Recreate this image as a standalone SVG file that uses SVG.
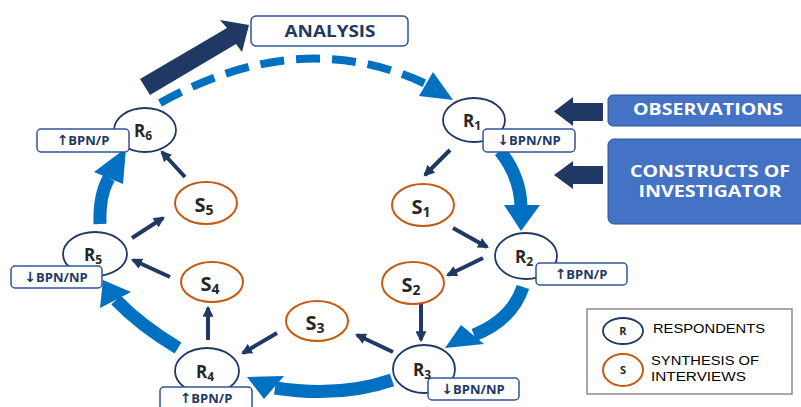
<svg xmlns="http://www.w3.org/2000/svg" width="801" height="407" viewBox="0 0 801 407">
<defs>
<style>
.r{fill:#fff;stroke:#1F3864;stroke-width:1.8}
.s{fill:#fff;stroke:#C55A11;stroke-width:2}
.rt{font-family:"Open Sans","Liberation Sans",sans-serif;font-weight:bold;font-size:17px;fill:#262626;text-anchor:middle}
.st{font-family:"Open Sans","Liberation Sans",sans-serif;font-weight:bold;font-size:20px;fill:#262626;text-anchor:middle}
.lb{fill:#fff;stroke:#2F5597;stroke-width:1.5}
.lt{font-family:"Open Sans","Liberation Sans",sans-serif;font-weight:bold;font-size:13px;fill:#1F3864;text-anchor:middle}
.ar{font-family:"DejaVu Sans",sans-serif;font-weight:bold;font-size:14px}
.big{fill:none;stroke:#0070C0;stroke-width:13}
.bh{fill:#0070C0}
.sm{stroke:#1F3864;stroke-width:4;fill:none;marker-end:url(#ah)}
.nv{fill:#1F3864}
.bx{fill:#4472C4;stroke:#2F5597;stroke-width:1}
.bt{font-family:"Open Sans","Liberation Sans",sans-serif;font-weight:bold;font-size:16px;fill:#fff;text-anchor:middle}
.lg{font-family:"Liberation Sans",Arial,sans-serif;font-size:13px;fill:#000}
</style>
<marker id="ah" viewBox="0 0 10 10" refX="8" refY="5" markerWidth="11" markerHeight="11" markerUnits="userSpaceOnUse" orient="auto">
<path d="M0,0 L10,5 L0,10 z" fill="#1F3864"/>
</marker>
</defs>

<g id="connectors">
<path d="M160,103 Q300,25 426,84" fill="none" stroke="#0070C0" stroke-width="8" stroke-dasharray="24 12"/>
<polygon class="bh" points="453,100 433,72 419,96"/>
<path class="big" d="M500,151 Q520,176 521,206"/>
<polygon class="bh" points="504,205 540,205 521,231"/>
<path class="big" d="M523,287 Q512,320 474,335"/>
<polygon class="bh" points="461,325 484,344 445,348"/>
<path class="big" d="M392,380 Q340,398 275,388"/>
<polygon class="bh" points="284,376 264,399 247,377"/>
<path class="big" d="M178,348 Q140,325 116,300"/>
<polygon class="bh" points="131,292 100,308 103,280"/>
<path class="big" d="M100,224 Q99,195 109,178"/>
<polygon class="bh" points="94,172 123,184 126,148"/>
<line class="sm" x1="450" y1="150" x2="425" y2="175"/>
<line class="sm" x1="453" y1="228" x2="487" y2="247"/>
<line class="sm" x1="483" y1="258" x2="448" y2="275"/>
<line class="sm" x1="421" y1="300" x2="421" y2="340"/>
<line class="sm" x1="393" y1="352" x2="357" y2="335"/>
<line class="sm" x1="277" y1="333" x2="243" y2="353"/>
<line class="sm" x1="208" y1="340" x2="208" y2="308"/>
<line class="sm" x1="170" y1="277" x2="133" y2="260"/>
<line class="sm" x1="132" y1="238" x2="163" y2="218"/>
<line class="sm" x1="185" y1="177" x2="162" y2="152"/>
<polygon class="nv" points="140,79 227,28 220,20 249,25 242,52 236,44 150,95"/>
<polygon class="nv" points="603,103 573,103 573,97 554,111.5 573,126 573,121 603,121"/>
<polygon class="nv" points="603,166 573,166 573,161 554,175 573,189 573,184 603,184"/>
</g>

<g id="analysis">
<rect x="251" y="16" width="157" height="30" rx="5" fill="#fff" stroke="#2F5597" stroke-width="1.5"/>
<text x="330" y="37" font-family="'Open Sans','Liberation Sans',sans-serif" font-weight="bold" font-size="16" fill="#1F3864" text-anchor="middle" textLength="91" lengthAdjust="spacingAndGlyphs">ANALYSIS</text>
</g>

<g id="observations">
<rect class="bx" x="608" y="95" width="200" height="31" rx="5"/>
<text class="bt" x="708" y="115" textLength="150" lengthAdjust="spacingAndGlyphs">OBSERVATIONS</text>
</g>

<g id="constructs">
<rect class="bx" x="608" y="139" width="200" height="85" rx="6"/>
<text class="bt" x="710" y="177" textLength="160" lengthAdjust="spacingAndGlyphs">CONSTRUCTS OF</text>
<text class="bt" x="710" y="197" textLength="143" lengthAdjust="spacingAndGlyphs">INVESTIGATOR</text>
</g>

<g id="R1">
<ellipse class="r" cx="474" cy="120" rx="31" ry="22"/>
<text class="rt" x="472" y="127">R<tspan font-size="12" dy="3">1</tspan></text>
<rect class="lb" x="483" y="129" width="92" height="23" rx="4"/>
<text class="lt" x="529" y="145"><tspan class="ar">↓</tspan>BPN/NP</text>
</g>

<g id="R2">
<ellipse class="r" cx="526" cy="256" rx="31" ry="23"/>
<text class="rt" x="524" y="263">R<tspan font-size="12" dy="3">2</tspan></text>
<rect class="lb" x="536" y="263" width="91" height="22" rx="4"/>
<text class="lt" x="581" y="279"><tspan class="ar">↑</tspan>BPN/P</text>
</g>

<g id="R3">
<ellipse class="r" cx="424" cy="369" rx="31" ry="24"/>
<text class="rt" x="422" y="376">R<tspan font-size="12" dy="3">3</tspan></text>
<rect class="lb" x="428" y="378" width="91" height="22" rx="4"/>
<text class="lt" x="473" y="394"><tspan class="ar">↓</tspan>BPN/NP</text>
</g>

<g id="R4">
<ellipse class="r" cx="207" cy="371" rx="32" ry="23"/>
<text class="rt" x="205" y="378">R<tspan font-size="12" dy="3">4</tspan></text>
<rect class="lb" x="160" y="387" width="92" height="24" rx="4"/>
<text class="lt" x="206" y="403"><tspan class="ar">↑</tspan>BPN/P</text>
</g>

<g id="R5">
<ellipse class="r" cx="95" cy="254" rx="32" ry="22"/>
<text class="rt" x="93" y="261">R<tspan font-size="12" dy="3">5</tspan></text>
<rect class="lb" x="11" y="266" width="91" height="22" rx="4"/>
<text class="lt" x="56" y="282"><tspan class="ar">↓</tspan>BPN/NP</text>
</g>

<g id="R6">
<ellipse class="r" cx="145" cy="130" rx="31" ry="22"/>
<text class="rt" x="143" y="137">R<tspan font-size="12" dy="3">6</tspan></text>
<rect class="lb" x="37" y="129" width="92" height="23" rx="4"/>
<text class="lt" x="83" y="145"><tspan class="ar">↑</tspan>BPN/P</text>
</g>

<g id="S1">
<ellipse class="s" cx="423" cy="205" rx="31" ry="21"/>
<text class="st" x="421" y="214">S<tspan font-size="14" dy="3">1</tspan></text>
</g>
<g id="S2">
<ellipse class="s" cx="413" cy="283" rx="31" ry="21"/>
<text class="st" x="411" y="292">S<tspan font-size="14" dy="3">2</tspan></text>
</g>
<g id="S3">
<ellipse class="s" cx="317" cy="321" rx="31" ry="20"/>
<text class="st" x="315" y="330">S<tspan font-size="14" dy="3">3</tspan></text>
</g>
<g id="S4">
<ellipse class="s" cx="212" cy="282" rx="31" ry="20"/>
<text class="st" x="210" y="291">S<tspan font-size="14" dy="3">4</tspan></text>
</g>
<g id="S5">
<ellipse class="s" cx="206" cy="203" rx="31" ry="21"/>
<text class="st" x="204" y="212">S<tspan font-size="14" dy="3">5</tspan></text>
</g>

<g id="legend">
<rect x="587" y="309" width="205" height="85" fill="#fff" stroke="#8C8C8C" stroke-width="1.5"/>
<ellipse class="r" cx="623" cy="331" rx="20" ry="13"/>
<text x="623" y="335" font-family="'Open Sans','Liberation Sans',sans-serif" font-weight="bold" font-size="11" fill="#262626" text-anchor="middle">R</text>
<ellipse class="s" cx="623" cy="370" rx="20" ry="16"/>
<text x="623" y="374" font-family="'Open Sans','Liberation Sans',sans-serif" font-weight="bold" font-size="11" fill="#262626" text-anchor="middle">S</text>
<text class="lg" x="653" y="333" textLength="112" lengthAdjust="spacingAndGlyphs">RESPONDENTS</text>
<text class="lg" x="651" y="365" textLength="108" lengthAdjust="spacingAndGlyphs">SYNTHESIS OF</text>
<text class="lg" x="651" y="381" textLength="95" lengthAdjust="spacingAndGlyphs">INTERVIEWS</text>
</g>
</svg>
